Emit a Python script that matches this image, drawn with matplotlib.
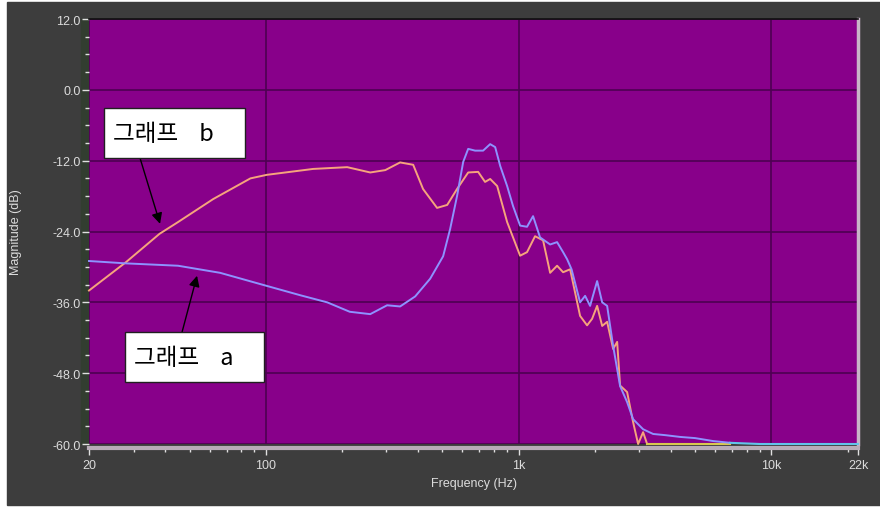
import matplotlib.pyplot as plt
from matplotlib.patches import Rectangle
from matplotlib.ticker import FixedLocator, NullFormatter

plt.rcParams['font.family'] = ['Liberation Sans', 'DejaVu Sans']

# 그래프 a (blue)
freq_a = [20, 28, 45, 66, 95, 137, 175, 215, 259, 302, 340, 390, 447, 503, 536, 571,
          604, 632, 673, 724, 772, 808, 846, 901, 951, 1014, 1080, 1141, 1216, 1333,
          1420, 1500, 1556, 1620, 1751, 1833, 1918, 2045, 2141, 2240, 2366, 2521, 2687,
          2838, 3108, 3405, 3800, 4350, 4990, 5880, 6860]
mag_a = [-29.0, -29.4, -29.8, -31.0, -32.9, -34.8, -36.0, -37.6, -38.0, -36.5, -36.7,
         -35.0, -32.0, -28.2, -23.6, -18.0, -12.2, -10.0, -10.3, -10.3, -9.2, -9.7,
         -12.9, -16.3, -19.7, -23.0, -23.2, -21.4, -25.0, -26.2, -25.8, -27.5, -28.7,
         -30.4, -36.0, -34.9, -36.6, -32.4, -36.0, -36.6, -43.4, -50.2, -52.9, -55.8,
         -57.5, -58.3, -58.5, -58.8, -59.0, -59.5, -59.8]
tail_a_freq = [6860, 9000, 22000]
tail_a_mag = [-59.8, -60.0, -60.0]

# 그래프 b (orange)
freq_b = [20, 28, 38, 45, 62, 87, 101, 154, 210, 259, 297, 340, 383, 419, 476, 522,
          571, 632, 692, 737, 772, 823, 901, 1014, 1080, 1162, 1250, 1333, 1420, 1500,
          1599, 1751, 1866, 1953, 2045, 2141, 2240, 2366, 2454, 2521, 2687, 2838, 2970,
          3108, 3224]
mag_b = [-34.0, -29.2, -24.4, -22.4, -18.5, -15.0, -14.4, -13.4, -13.1, -14.0, -13.6,
         -12.3, -12.7, -16.8, -20.0, -19.5, -16.8, -14.0, -13.9, -15.6, -15.1, -16.3,
         -22.4, -28.1, -27.5, -24.8, -25.5, -31.0, -29.8, -30.9, -30.4, -38.3, -39.9,
         -38.8, -36.6, -40.0, -39.3, -43.9, -42.7, -50.1, -51.2, -56.3, -60.0, -58.0,
         -60.0]
tail_b_freq = [3224, 6860]
tail_b_mag = [-60.0, -60.0]

y_ticks = [12, 0, -12, -24, -36, -48, -60]
x_ticks = [20, 100, 1000, 10000, 22000]
x_labels = ['20', '100', '1k', '10k', '22k']

fig = plt.figure(figsize=(8.8, 5.1), dpi=100, facecolor='white')

# dark background panel
fig.patches.append(Rectangle((7 / 880, 1 - 506 / 510), 873 / 880, 503 / 510,
                             transform=fig.transFigure, color='#3d3d3d', zorder=-10))
fig.patches.append(Rectangle((81 / 880, 1 - 445 / 510), 8 / 880, 425 / 510,
                             transform=fig.transFigure, color='#323d30', zorder=-9))

ax = fig.add_axes([89 / 880, 1 - 445 / 510, 769 / 880, 425 / 510])
ax.set_facecolor('#88008a')
ax.set_xscale('log')
ax.set_xlim(20, 22000)
ax.set_ylim(-60, 12)

ax.grid(True, which='major', color='#4e0052', linewidth=1.2)
ax.set_axisbelow(True)

ax.plot(freq_b, mag_b, color='#f6a47c', linewidth=1.4, clip_on=False, zorder=3)
ax.plot(tail_b_freq, tail_b_mag, color='#d8c850', linewidth=1.5, clip_on=False, zorder=3)
ax.plot(freq_a, mag_a, color='#8e92ff', linewidth=1.4, clip_on=False, zorder=4)
ax.plot(tail_a_freq, tail_a_mag, color='#62c4ea', linewidth=1.5, clip_on=False, zorder=4)

# ticks
ax.set_yticks(y_ticks)
ax.set_yticklabels(['%.1f' % v for v in y_ticks])
ax.yaxis.set_minor_locator(FixedLocator([v for v in range(-57, 12, 3) if v % 12 != 0]))
ax.set_xticks(x_ticks)
ax.set_xticklabels(x_labels)
minor_x = [m * d for d in (10, 100, 1000, 10000) for m in range(2, 10)
           if 20 < m * d < 22000 and m * d not in x_ticks]
ax.xaxis.set_minor_locator(FixedLocator(minor_x))
ax.xaxis.set_minor_formatter(NullFormatter())

ax.tick_params(axis='both', which='major', colors='#e0e0e0', labelsize=9,
               length=5, width=1, labelcolor='#dcdcdc')
ax.tick_params(axis='both', which='minor', colors='#e0e0e0', length=3, width=1)
ax.tick_params(axis='x', which='major', pad=3)
ax.tick_params(axis='y', which='major', pad=1)

ax.spines['left'].set_visible(False)
ax.spines['top'].set_color('#101010')
ax.spines['top'].set_linewidth(1.2)
ax.spines['right'].set_color('#c8b4c8')
ax.spines['right'].set_linewidth(2.5)
ax.spines['bottom'].set_color('#b8acb8')
ax.spines['bottom'].set_linewidth(3)
ax.spines['bottom'].set_position(('outward', 3))

ax.set_xlabel('Frequency (Hz)', color='#dcdcdc', fontsize=9, labelpad=4)
ax.set_ylabel('Magnitude (dB)', color='#dcdcdc', fontsize=9, labelpad=22)

# annotation boxes (axes fraction)
kr = ['Noto Sans CJK KR', 'DejaVu Sans']
ax.add_patch(Rectangle((0.0195, 0.673), 0.1834, 0.1176, transform=ax.transAxes,
                       facecolor='white', edgecolor='#202020', linewidth=1, zorder=6))
ax.text(0.031, 0.730, '그래프    b', fontsize=17, family=kr, transform=ax.transAxes,
        ha='left', va='center', color='black', zorder=7)
ax.add_patch(Rectangle((0.0468, 0.1459), 0.1808, 0.1176, transform=ax.transAxes,
                       facecolor='white', edgecolor='#202020', linewidth=1, zorder=6))
ax.text(0.058, 0.203, '그래프    a', fontsize=17, family=kr, transform=ax.transAxes,
        ha='left', va='center', color='black', zorder=7)

arrow = dict(arrowstyle='-|>', color='black', linewidth=1, mutation_scale=16,
             shrinkA=0, shrinkB=0)
ax.annotate('', xy=(38.2, -22.7), xytext=(31.8, -11.5), arrowprops=arrow, zorder=5)
ax.annotate('', xy=(53.5, -31.5), xytext=(46.7, -41.0), arrowprops=arrow, zorder=5)

fig.savefig('out.png', dpi=100, facecolor='white')
